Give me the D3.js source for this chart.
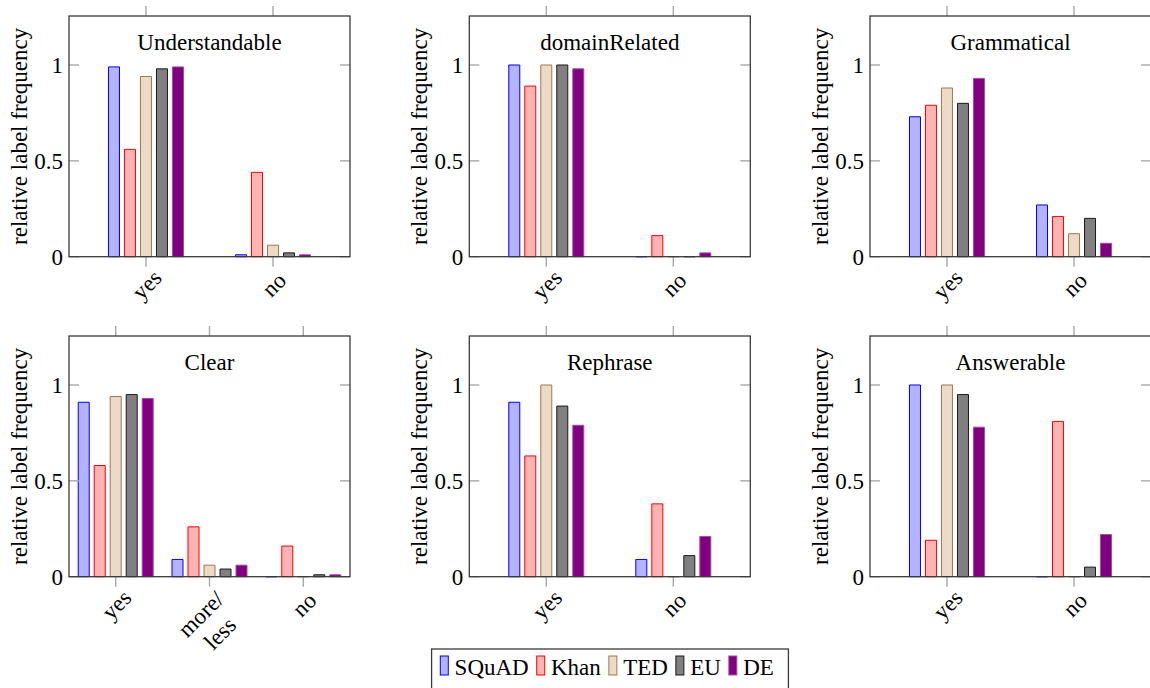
<!DOCTYPE html>
<html>
<head>
<meta charset="utf-8">
<script src="https://cdn.jsdelivr.net/npm/d3@7"></script>
</head>
<body style="margin:0">
<script>
// series and shared ticks
var series = ["SQuAD", "Khan", "TED", "EU", "DE"];
var yTicks = [0, 0.5, 1];

// values: one row per category, one column per series
var understandableCats = ["yes", "no"];
var understandableValues = [
	[0.99, 0.56, 0.94, 0.98, 0.99],
	[0.01, 0.44, 0.06, 0.02, 0.01]
];

var domainRelatedCats = ["yes", "no"];
var domainRelatedValues = [
	[1.00, 0.89, 1.00, 1.00, 0.98],
	[0.00, 0.11, 0.00, 0.00, 0.02]
];

var grammaticalCats = ["yes", "no"];
var grammaticalValues = [
	[0.73, 0.79, 0.88, 0.80, 0.93],
	[0.27, 0.21, 0.12, 0.20, 0.07]
];

var clearCats = ["yes", "more/less", "no"];
var clearValues = [
	[0.91, 0.58, 0.94, 0.95, 0.93],
	[0.09, 0.26, 0.06, 0.04, 0.06],
	[0.00, 0.16, 0.00, 0.01, 0.01]
];

var rephraseCats = ["yes", "no"];
var rephraseValues = [
	[0.91, 0.63, 1.00, 0.89, 0.79],
	[0.09, 0.38, 0.00, 0.11, 0.21]
];

var answerableCats = ["yes", "no"];
var answerableValues = [
	[1.00, 0.19, 1.00, 0.95, 0.78],
	[0.00, 0.81, 0.00, 0.05, 0.22]
];

var panels = [
	{title: "Understandable", cats: understandableCats, values: understandableValues},
	{title: "domainRelated", cats: domainRelatedCats, values: domainRelatedValues},
	{title: "Grammatical", cats: grammaticalCats, values: grammaticalValues},
	{title: "Clear", cats: clearCats, values: clearValues},
	{title: "Rephrase", cats: rephraseCats, values: rephraseValues},
	{title: "Answerable", cats: answerableCats, values: answerableValues}
];

var fills = ["#b3b3ff", "#ffb3b3", "#ecd9c6", "#808080", "#800080"];
var strokes = ["#0000ff", "#ff0000", "#a07850", "#1a1a1a", "#a050a0"];

// layout
var W = 1150, H = 688;
var panelW = 281, panelH = 240.7;
var lefts = [69, 469.3, 870];
var tops = [16, 336];
var yMax = 1.2556;
var barW = 11, barStep = 16;
var fs = 23;
var lh = 27;
var font = "Liberation Serif";
var tickColor = "#a8a8a8";
var tickLen = 10;

var svg = d3.select("body")
	.append("svg")
		.attr("width", W)
		.attr("height", H)
		.attr("font-family", font)
		.attr("font-size", fs);

function addText(parent){
	return parent.append("text")
		.attr("font-family", font)
		.attr("font-size", fs)
		.attr("fill", "#000");
}

panels.forEach(function(p, i){
	var left = lefts[i % 3];
	var top = tops[Math.floor(i / 3)];
	var g = svg.append("g")
		.attr("transform", "translate(" + left + "," + top + ")");

	var x = d3.scalePoint()
		.domain(p.cats)
		.range([0, panelW])
		.padding(p.cats.length == 2 ? 0.606 : 0.498);

	var y = d3.scaleLinear()
		.domain([0, yMax])
		.range([panelH, 0]);

	// bars (paths so zero values still show as a line)
	var flat = [];
	p.cats.forEach(function(c, ci){
		p.values[ci].forEach(function(v, si){
			flat.push({cat: c, s: si, v: v});
		});
	});

	g.selectAll("path.bar")
		.data(flat)
		.enter()
		.append("path")
			.attr("class", "bar")
			.attr("d", function(d){
				var x0 = x(d.cat) + (d.s - 2) * barStep - barW / 2;
				return "M" + x0 + "," + y(0) + "V" + y(d.v) + "H" + (x0 + barW) + "V" + y(0) + "Z";
			})
			.attr("fill", function(d){ return fills[d.s]; })
			.attr("stroke", function(d){ return strokes[d.s]; })
			.attr("stroke-width", 1);

	// x ticks, outside at top and bottom
	p.cats.forEach(function(c){
		g.append("line")
			.attr("x1", x(c)).attr("x2", x(c))
			.attr("y1", -tickLen).attr("y2", 0)
			.attr("stroke", tickColor).attr("stroke-width", 1.4);
		g.append("line")
			.attr("x1", x(c)).attr("x2", x(c))
			.attr("y1", panelH).attr("y2", panelH + tickLen)
			.attr("stroke", tickColor).attr("stroke-width", 1.4);
	});

	// y ticks, inside on both sides, with labels on the left
	yTicks.forEach(function(t){
		g.append("line")
			.attr("x1", 0).attr("x2", tickLen)
			.attr("y1", y(t)).attr("y2", y(t))
			.attr("stroke", tickColor).attr("stroke-width", 1.4);
		g.append("line")
			.attr("x1", panelW - tickLen).attr("x2", panelW)
			.attr("y1", y(t)).attr("y2", y(t))
			.attr("stroke", tickColor).attr("stroke-width", 1.4);
		addText(g)
			.attr("x", -6)
			.attr("y", y(t) + 8)
			.attr("text-anchor", "end")
			.text(t);
	});

	// frame
	g.append("rect")
		.attr("width", panelW)
		.attr("height", panelH)
		.attr("fill", "none")
		.attr("stroke", "#3a3a3a")
		.attr("stroke-width", 1.3);

	// title
	addText(g)
		.attr("x", panelW / 2)
		.attr("y", 34)
		.attr("text-anchor", "middle")
		.text(p.title);

	// Y label
	addText(g)
		.attr("transform", "translate(-42," + (panelH / 2) + ") rotate(-90)")
		.attr("text-anchor", "middle")
		.text("relative label frequency");

	// rotated x tick labels
	p.cats.forEach(function(c){
		var lines = c.indexOf("/") >= 0 ? [c.slice(0, c.indexOf("/") + 1), c.slice(c.indexOf("/") + 1)] : [c];
		var n = lines.length;
		var hh = (n - 1) * lh / 2 + 11.3;
		var dist = hh * Math.SQRT2;
		var lg = g.append("g")
			.attr("transform", "translate(" + x(c) + "," + (panelH + 11 + dist) + ") rotate(-45)");
		lines.forEach(function(l, li){
			addText(lg)
				.attr("x", 0)
				.attr("y", (li - (n - 1) / 2) * lh + 9)
				.attr("text-anchor", "middle")
				.text(l);
		});
	});
});

// legend
var legend = svg.append("g");
var box = legend.append("rect")
	.attr("fill", "#fff")
	.attr("stroke", "#3a3a3a")
	.attr("stroke-width", 1.3);

var lx = 0;
series.forEach(function(s, si){
	legend.append("rect")
		.attr("x", lx)
		.attr("y", 656)
		.attr("width", 8)
		.attr("height", 19)
		.attr("fill", fills[si])
		.attr("stroke", strokes[si])
		.attr("stroke-width", 1);
	var t = addText(legend)
		.attr("x", lx + 14.3)
		.attr("y", 675)
		.text(s);
	lx = lx + 14.3 + t.node().getComputedTextLength();
	if (si < series.length - 1) lx += 8;
});

var padL = 8.7, padR = 14.6;
var boxW = padL + lx + padR;
var boxLeft = 610 - boxW / 2;
legend.attr("transform", "translate(" + (boxLeft + padL) + ",0)");
box.attr("x", -padL)
	.attr("y", 649)
	.attr("width", boxW)
	.attr("height", 60);
</script>
</body>
</html>
